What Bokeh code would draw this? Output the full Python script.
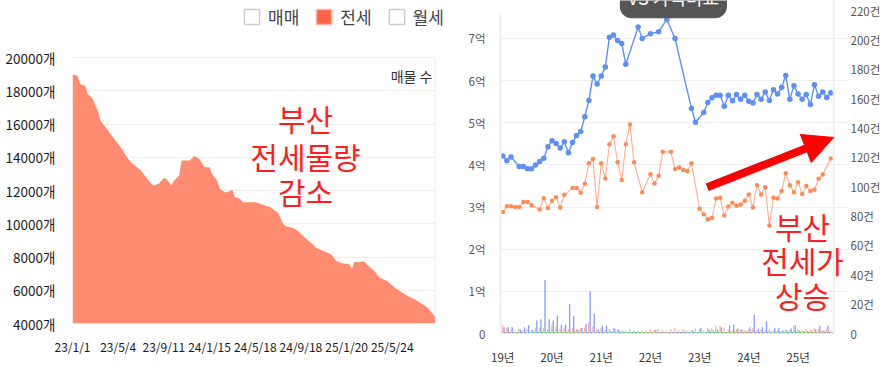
from bokeh.plotting import figure
from bokeh.models import (Range1d, LinearAxis, FixedTicker, Label, Arrow, NormalHead,
                          Legend, LegendItem, Span, BoxAnnotation, ColumnDataSource)
from bokeh.layouts import row
from bokeh.embed import file_html
from bokeh.resources import INLINE

FONT = "Noto Sans CJK KR"

# ---------------- left chart data: 전세 매물 수 ----------------
stock_idx = [0, 2, 3, 5, 6, 8, 9, 10, 11, 13, 15, 17, 19, 21, 23, 25, 27, 29, 31, 32, 34, 36, 37, 38, 39,
             40, 42, 43, 46, 48, 50, 52, 54, 55, 57, 58, 60, 61, 63, 64, 66, 67, 71, 72, 74, 78, 81, 83,
             84, 87, 89, 91, 94, 96, 99, 102, 104, 107, 109, 110, 111, 113, 115, 116, 119, 121, 124,
             127, 129, 132, 135, 137, 140, 142, 143]
stock_val = [19000, 18900, 18400, 18300, 17800, 17500, 17100, 16800, 16200, 15800, 15400, 15000, 14600,
             14100, 13700, 13450, 13200, 12800, 12400, 12300, 12400, 12750, 12700, 12500, 12300, 12600,
             12900, 13800, 13800, 14080, 13900, 13400, 13400, 13000, 12600, 12100, 11900, 11900, 12050,
             11600, 11500, 11300, 11300, 11300, 11200, 11000, 10650, 10000, 9850, 9750, 9550, 9250, 8850,
             8550, 8350, 8150, 7750, 7600, 7600, 7250, 7700, 7700, 7750, 7550, 7150, 6750, 6550, 6150,
             5950, 5650, 5450, 5250, 4950, 4550, 4400]
stock_tick_labels = ["23/1/1", "23/5/4", "23/9/11", "24/1/15", "24/5/18", "24/9/18", "25/1/20", "25/5/24"]
stock_tick_step = 18
stock_y_ticks = list(range(4000, 20001, 2000))
legend_labels = ["매매", "전세", "월세"]

# ---------------- right chart data: 가격 (억) & 거래 건수 ----------------
year_labels = ["19년", "20년", "21년", "22년", "23년", "24년", "25년"]

sale_m = [0, 1, 2, 4, 5, 6, 7, 8, 9, 10, 11, 12, 13, 14, 15, 16, 17, 18, 19, 20, 21, 22, 23, 24, 25, 26,
          27, 28, 29, 30, 33, 34, 36, 38, 40, 42, 46, 47, 49, 50, 51, 52, 53, 54, 55, 56, 57, 58, 59, 60,
          61, 62, 63, 64, 65, 66, 67, 68, 69, 70, 71, 72, 73, 74, 75, 76, 77, 78, 79, 80]
sale_price = [4.21, 4.10, 4.19, 3.96, 3.96, 3.91, 3.91, 4.00, 4.08, 4.16, 4.43, 4.57, 4.51, 4.40, 4.55,
              4.29, 4.53, 4.70, 4.79, 5.14, 5.53, 6.11, 5.92, 6.11, 6.32, 7.03, 7.08, 6.95, 6.88, 6.39,
              7.27, 7.00, 7.11, 7.16, 7.45, 7.00, 5.34, 5.01, 5.24, 5.48, 5.59, 5.65, 5.65, 5.39, 5.65,
              5.52, 5.67, 5.56, 5.65, 5.51, 5.47, 5.67, 5.56, 5.73, 5.53, 5.78, 5.68, 5.84, 6.12, 5.56,
              5.88, 5.68, 5.56, 5.67, 5.43, 5.90, 5.63, 5.73, 5.60, 5.71]

jeonse_m = [0, 1, 2, 3, 4, 5, 6, 7, 9, 10, 11, 12, 13, 14, 15, 17, 18, 19, 20, 21, 22, 23, 24, 25, 26,
            27, 28, 29, 30, 31, 32, 34, 36, 37, 38, 39, 41, 42, 43, 44, 45, 46, 48, 49, 50, 51, 52, 53,
            54, 55, 56, 57, 58, 59, 60, 61, 62, 63, 64, 65, 66, 67, 68, 69, 70, 71, 72, 73, 74, 75, 76,
            77, 78, 80]
jeonse_price = [2.88, 3.02, 3.02, 3.00, 3.00, 3.12, 3.12, 3.05, 2.94, 3.21, 2.98, 3.15, 3.23, 2.99, 3.29,
                3.45, 3.45, 3.34, 3.55, 4.04, 4.14, 3.00, 4.04, 3.68, 4.49, 4.68, 4.06, 3.64, 4.49, 4.96,
                4.06, 3.35, 3.78, 3.56, 3.74, 4.31, 4.31, 3.90, 3.94, 3.88, 3.85, 4.04, 2.96, 2.83, 2.71,
                2.74, 3.20, 3.22, 2.80, 3.01, 3.10, 3.03, 3.06, 3.15, 3.30, 2.99, 3.52, 3.30, 3.47, 2.56,
                3.22, 3.20, 3.38, 3.80, 3.52, 3.35, 3.59, 3.31, 3.50, 3.38, 3.41, 3.67, 3.77, 4.15]

months = list(range(81))
sale_cnt = [4.3, 4.3, 4.3, 1, 2.7, 4.3, 5.6, 2.7, 8.8, 9.7, 36.5, 9.7, 8.8, 12.2, 6.1, 6.1, 20, 11.9, 2.7,
            3.8, 6.5, 28.6, 13.5, 2.7, 5.4, 5.4, 1.6, 3.4, 2.7, 1.6, 1, 1, 1, 1, 1, 1, 1, 2.7, 1, 1, 1, 1,
            1, 1, 1.6, 1, 2, 1, 3.8, 1, 2.5, 2, 2.7, 4.3, 1, 5.4, 6.1, 3.4, 2.7, 1.6, 4.3, 12.8, 3.4, 4.3,
            8.1, 1.6, 3.8, 3.8, 2, 2, 3.4, 5.4, 2, 1.6, 1.6, 2, 2.7, 5.4, 2, 5.4, 1]
jeonse_cnt = [6, 4, 2, 1.5, 3, 2, 3, 2, 4, 4, 4, 3, 6, 5, 3, 4, 3, 4, 3, 4, 4, 8, 5, 3, 4, 2, 3, 4, 3, 2,
              2, 3, 2, 1.5, 2, 1.5, 3, 2.5, 3, 2, 1.5, 3, 4, 2, 3, 2, 2, 3.5, 3, 2, 4, 4, 5.5, 5.5, 4, 3,
              2, 3, 3, 2, 3, 3.5, 2, 3, 2, 3, 2, 2, 1.5, 3, 2, 5.5, 3, 2, 3, 2, 4, 3, 2, 3, 2]
monthly_cnt = [1, 1, 0.8, 1, 1.2, 1, 0.8, 1, 1, 1.2, 1, 1, 1, 0.8, 1, 1, 1, 1.2, 1, 1, 1, 1, 0.8, 1, 1, 1,
               1, 0.8, 1, 1, 1, 1, 1, 0.8, 1, 1, 1, 1, 1, 0.8, 1, 1, 1, 1, 1, 1, 1, 1, 0.8, 1, 1, 1, 1, 1,
               1, 1, 1.2, 1, 1, 1, 1, 1, 1, 1, 1, 0.8, 1, 1, 1, 1, 1, 1, 1, 1, 1, 1, 0.8, 1, 1, 1, 1]

# ================= LEFT FIGURE =================
left = figure(width=455, height=367, x_range=Range1d(0, 150.9), y_range=Range1d(4000, 23430),
              output_backend="svg", toolbar_location=None, frame_align=False,
              min_border_left=72, min_border_right=0, min_border_top=0, min_border_bottom=44)
left.varea(x=stock_idx, y1=stock_y_ticks[0], y2=stock_val, fill_color="#FF8B70")

left.xaxis.ticker = FixedTicker(ticks=[i * stock_tick_step for i in range(len(stock_tick_labels))])
left.xaxis.major_label_overrides = {i * stock_tick_step: t for i, t in enumerate(stock_tick_labels)}
left.yaxis.ticker = FixedTicker(ticks=stock_y_ticks)
left.yaxis.major_label_overrides = {v: f"{v}개" for v in stock_y_ticks}
for ax in (left.xaxis[0], left.yaxis[0]):
    ax.axis_line_color = None
    ax.major_tick_line_color = None
    ax.minor_tick_line_color = None
    ax.major_tick_out = 0
    ax.major_tick_in = 0
    ax.minor_tick_out = 0
    ax.major_label_text_font = FONT
    ax.major_label_text_color = "#1a1a1a"
left.yaxis[0].major_label_text_font_size = "13.5px"
left.xaxis[0].major_label_text_font_size = "12px"
left.yaxis[0].major_label_standoff = 17
left.xaxis[0].major_label_standoff = 14
left.xgrid.visible = False
left.ygrid.grid_line_color = "#eeeeee"
left.outline_line_color = None

# blank out the grid beyond the plotted period and draw the panel's right border
left.add_layout(BoxAnnotation(left=stock_idx[-1], bottom=stock_y_ticks[0] - 300, top=stock_y_ticks[-1] + 200,
                              fill_color="white", fill_alpha=1, line_color=None))
left.segment(x0=[stock_idx[-1]], y0=[stock_y_ticks[0]], x1=[stock_idx[-1]], y1=[stock_y_ticks[-1]],
             line_color="#e4e4e4", line_width=1.5)

# legend swatches (hidden renderers, only used for the legend boxes)
legend_src = ColumnDataSource(dict(l=[stock_idx[0]], r=[stock_idx[0]], t=[stock_y_ticks[0]], b=[stock_y_ticks[0]]))
r_sale = left.quad(left="l", right="r", top="t", bottom="b", source=legend_src, visible=False,
                   fill_color="white", line_color="#cccccc", line_width=1.5)
r_jeon = left.quad(left="l", right="r", top="t", bottom="b", source=legend_src, visible=False,
                   fill_color="#FF6347", line_color="#FFB4A5", line_width=1.5)
r_month = left.quad(left="l", right="r", top="t", bottom="b", source=legend_src, visible=False,
                    fill_color="white", line_color="#cccccc", line_width=1.5)
legend = Legend(items=[LegendItem(label=legend_labels[0], renderers=[r_sale]),
                       LegendItem(label=legend_labels[1], renderers=[r_jeon]),
                       LegendItem(label=legend_labels[2], renderers=[r_month])],
                orientation="horizontal", location=(170, 294), border_line_color=None,
                background_fill_alpha=0, padding=0, margin=0, spacing=15, label_standoff=7,
                glyph_width=19, glyph_height=19, label_height=19, click_policy="none",
                label_text_font=FONT, label_text_font_size="17px", label_text_color="#444444")
left.add_layout(legend)

left.add_layout(Label(x=141.8, y=18917, text="매물 수", text_align="right", text_baseline="middle",
                      text_font=FONT, text_font_size="14px", text_color="#333333"))
for txt, yy in (("부산", 16361), ("전세물량", 14105), ("감소", 11970)):
    left.add_layout(Label(x=91.8, y=yy, text=txt, text_align="center", text_baseline="middle",
                          text_font=FONT, text_font_size="30px", text_color="#FF1E1E"))

# ================= RIGHT FIGURE =================
right = figure(width=436, height=367, x_range=Range1d(-0.56, 84.3), y_range=Range1d(0, 7.9),
               output_backend="svg", toolbar_location=None, frame_align=False,
               min_border_left=45, min_border_right=43, min_border_top=0, min_border_bottom=31)
right.extra_y_ranges = {"cnt": Range1d(0, 227)}

right.vbar(x=[m - 0.05 for m in months], top=jeonse_cnt, width=0.33, y_range_name="cnt",
           fill_color="#FFB3A6", line_color=None)
right.vbar(x=[m + 0.3 for m in months], top=sale_cnt, width=0.33, y_range_name="cnt",
           fill_color="#8C9EFF", line_color=None)
right.vbar(x=[m + 0.62 for m in months], top=monthly_cnt, width=0.3, y_range_name="cnt",
           fill_color="#3CC63C", line_color=None)

right.line(sale_m, sale_price, line_color="#5E8EF7", line_width=1.4)
right.scatter(sale_m, sale_price, size=5.5, fill_color="#5E8EF7", line_color=None)
right.line(jeonse_m, jeonse_price, line_color="#FFAA90", line_width=1.1)
right.scatter(jeonse_m, jeonse_price, size=4.5, fill_color="#FF8A55", line_color=None)

right.xaxis.ticker = FixedTicker(ticks=[12 * i for i in range(len(year_labels))])
right.xaxis.major_label_overrides = {12 * i: t for i, t in enumerate(year_labels)}
right.yaxis.ticker = FixedTicker(ticks=list(range(0, 8)))
right.yaxis.major_label_overrides = {v: ("0" if v == 0 else f"{v}억") for v in range(0, 8)}
right.yaxis.bounds = (0, 7.6)
cnt_ticks = list(range(0, 221, 20))
cnt_axis = LinearAxis(y_range_name="cnt", ticker=FixedTicker(ticks=cnt_ticks),
                      major_label_overrides={v: ("0" if v == 0 else f"{v}건") for v in cnt_ticks})
right.add_layout(cnt_axis, "right")
for ax in (right.xaxis[0], right.yaxis[0], cnt_axis):
    ax.major_tick_line_color = None
    ax.minor_tick_line_color = None
    ax.major_tick_out = 0
    ax.major_tick_in = 0
    ax.minor_tick_out = 0
    ax.major_label_text_font = FONT
    ax.major_label_text_font_size = "11.5px"
    ax.major_label_text_color = "#555555"
right.xaxis[0].axis_line_color = None
right.xaxis[0].major_label_text_color = "#333333"
right.yaxis[0].axis_line_color = "#eeeeee"
right.yaxis[0].axis_line_width = 2
cnt_axis.axis_line_color = None
right.yaxis[0].major_label_standoff = 15
cnt_axis.major_label_standoff = 2
right.xaxis[0].major_label_standoff = 15
right.xgrid.visible = False
right.ygrid.grid_line_color = "#eeeeee"
right.outline_line_color = None
right.add_layout(Span(location=80.7, dimension="height", line_color="#eeeeee", line_width=2))

right.add_layout(Arrow(end=NormalHead(size=30, fill_color="#FF0000", line_color="#FF0000"),
                       x_start=49.85, y_start=3.47, x_end=80.7, y_end=4.65,
                       line_color="#FF0000", line_width=8))
for txt, yy in (("부산", 2.56), ("전세가", 1.74), ("상승", 0.91)):
    right.add_layout(Label(x=73.1, y=yy, text=txt, text_align="center", text_baseline="middle",
                           text_font=FONT, text_font_size="30px", text_color="#FF1E1E"))
right.add_layout(Label(x=41.6, y=7.48, text="VS 가격비교", text_align="center", text_baseline="bottom",
                       text_color="white", text_font=FONT, text_font_size="18px",
                       background_fill_color="#555555", padding=8, border_radius=12))

layout = row(left, right)
open("out.html", "w").write(file_html(layout, INLINE))
